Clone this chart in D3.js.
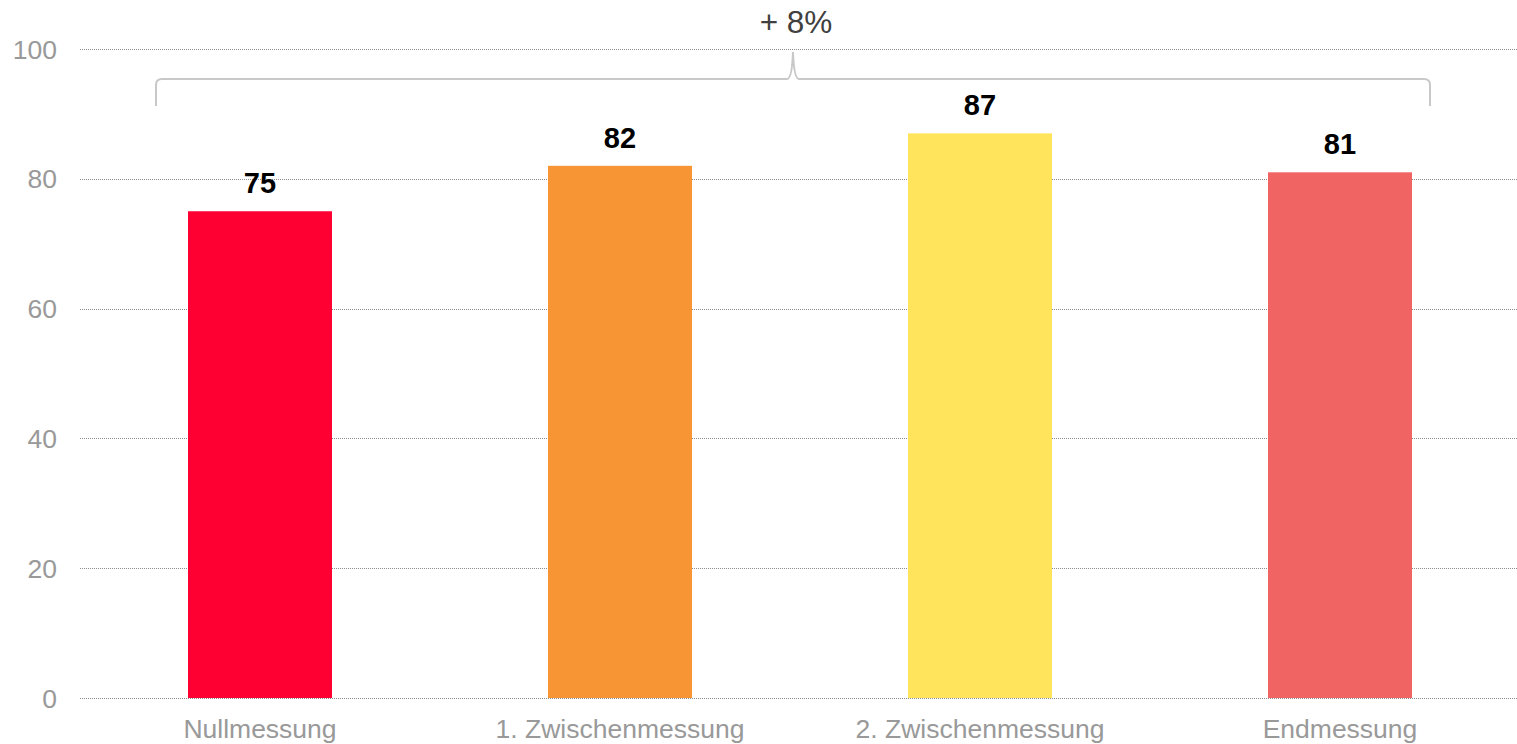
<!DOCTYPE html>
<html>
<head>
<meta charset="utf-8">
<script src="https://cdn.jsdelivr.net/npm/d3@7/dist/d3.min.js"></script>
<style>
  body { margin: 0; background: #fff; }
  svg { display: block; font-family: "Liberation Sans", Arial, sans-serif; }
</style>
</head>
<body>
<div id="chart"></div>
<script>
// data
const categories = ['Nullmessung', '1. Zwischenmessung', '2. Zwischenmessung', 'Endmessung'];
const values = [75, 82, 87, 81];
const colors = ['#FF0033', '#F79433', '#FFE45C', '#F06464'];
const yTicks = [0, 20, 40, 60, 80, 100];
const changeLabel = '+ 8%';

const width = 1517, height = 744;

let svg = d3.select('#chart').append('svg')
    .attr('width', width)
    .attr('height', height);

let x = d3.scaleBand()
    .domain(categories)
    .range([80, 1520])
    .paddingInner(0.6)
    .paddingOuter(0.3);

let y = d3.scaleLinear()
    .domain([0, 100])
    .range([698, 49]);

// grid lines
svg.append('g')
  .selectAll('line')
  .data(yTicks)
  .enter()
  .append('line')
    .attr('x1', 80)
    .attr('x2', width)
    .attr('y1', (d) => Math.round(y(d)) + 0.5)
    .attr('y2', (d) => Math.round(y(d)) + 0.5)
    .attr('stroke', '#8c8c8c')
    .attr('stroke-width', 1)
    .attr('stroke-dasharray', '1,1');

// y axis labels
svg.append('g')
  .selectAll('text')
  .data(yTicks)
  .enter()
  .append('text')
    .attr('x', 57)
    .attr('y', (d) => y(d) + 9.5)
    .attr('text-anchor', 'end')
    .attr('font-size', 26.5)
    .attr('fill', '#999')
    .text((d) => d);

// bars
svg.append('g')
  .selectAll('rect')
  .data(values)
  .enter()
  .append('rect')
    .attr('x', (d, i) => x(categories[i]))
    .attr('y', (d) => y(d))
    .attr('width', x.bandwidth())
    .attr('height', (d) => y(0) - y(d))
    .attr('fill', (d, i) => colors[i]);

// value labels
svg.append('g')
  .selectAll('text')
  .data(values)
  .enter()
  .append('text')
    .attr('x', (d, i) => x(categories[i]) + x.bandwidth() / 2)
    .attr('y', (d) => y(d) - 18)
    .attr('text-anchor', 'middle')
    .attr('font-size', 29)
    .attr('font-weight', 'bold')
    .attr('fill', '#000')
    .text((d) => d);

// category labels
svg.append('g')
  .selectAll('text')
  .data(categories)
  .enter()
  .append('text')
    .attr('x', (d) => x(d) + x.bandwidth() / 2)
    .attr('y', 738)
    .attr('text-anchor', 'middle')
    .attr('font-size', 26.5)
    .attr('fill', '#999')
    .text((d) => d);

// brace spanning first to last bar
let bx0 = 156, bx1 = 1430, bmid = 793;
let bTop = 79, bBot = 106, bPeak = 52, r = 6;
let brace = d3.path();
brace.moveTo(bx0, bBot);
brace.lineTo(bx0, bTop + r);
brace.quadraticCurveTo(bx0, bTop, bx0 + r, bTop);
brace.lineTo(bmid - 6, bTop);
brace.quadraticCurveTo(bmid - 1, bTop, bmid, bPeak);
brace.quadraticCurveTo(bmid + 1, bTop, bmid + 6, bTop);
brace.lineTo(bx1 - r, bTop);
brace.quadraticCurveTo(bx1, bTop, bx1, bTop + r);
brace.lineTo(bx1, bBot);

svg.append('path')
    .attr('d', brace.toString())
    .attr('fill', 'none')
    .attr('stroke', '#c8c8c8')
    .attr('stroke-width', 2);

svg.append('text')
    .attr('x', 796)
    .attr('y', 33)
    .attr('text-anchor', 'middle')
    .attr('font-size', 31.5)
    .attr('fill', '#404040')
    .text(changeLabel);
</script>
</body>
</html>
